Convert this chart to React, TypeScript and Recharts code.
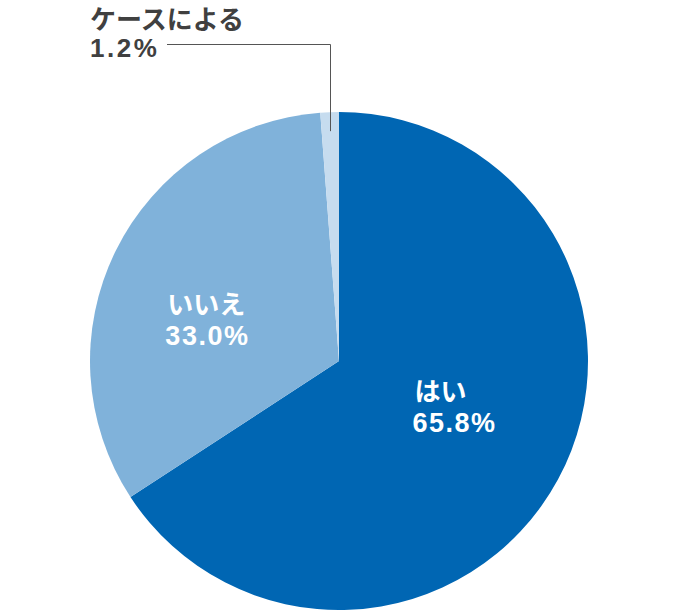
import { PieChart, Pie, Cell } from 'recharts';

const answers = ['はい', 'いいえ', 'ケースによる'];
const shares = [65.8, 33.0, 1.2];
const sliceColors = ['#0066b3', '#80b2da', '#c6dcef'];

const chartData = answers.map((name, i) => ({ name, value: shares[i] }));

const RADIAN = Math.PI / 180;
const fontFamily = '"Liberation Sans", "Noto Sans CJK JP", sans-serif';

// nudge inside labels (left aligned) so they sit like the original
const insideNudge: { [key: number]: [number, number] } = {
  0: [-36, -19],
  1: [-62, 8],
};

const renderLabel = (props: any) => {
  const { cx, cy, midAngle, outerRadius, index, name, value } = props;
  const pct = `${Number(value).toFixed(1)}%`;

  if (index === 2) {
    // small slice: leader line to the upper left
    const sx = cx + (outerRadius - 19) * Math.cos(-midAngle * RADIAN);
    const sy = cy + (outerRadius - 19) * Math.sin(-midAngle * RADIAN);
    const ly = cy - outerRadius - 68;
    const lx = cx - 172;
    return (
      <g>
        <polyline
          points={`${Math.round(sx) + 0.5},${sy} ${Math.round(sx) + 0.5},${ly + 0.5} ${lx},${ly + 0.5}`}
          fill="none"
          stroke="#555"
          strokeWidth={1}
        />
        <text x={cx - 249} y={cy - outerRadius - 83} fill="#404040" fontSize={26} fontWeight={700} fontFamily={fontFamily}>
          {name}
        </text>
        <text x={cx - 249} y={cy - outerRadius - 55} fill="#404040" fontSize={26} fontWeight={700} letterSpacing={2.5} fontFamily={fontFamily}>
          {pct}
        </text>
      </g>
    );
  }

  const r = outerRadius * 0.5;
  const [dx, dy] = insideNudge[index] || [0, 0];
  const x = cx + r * Math.cos(-midAngle * RADIAN) + dx;
  const y = cy + r * Math.sin(-midAngle * RADIAN) + dy;
  return (
    <g>
      <text x={x + 2} y={y} fill="#fff" fontSize={26} fontWeight={700} fontFamily={fontFamily} textAnchor="start">
        {name}
      </text>
      <text x={x} y={y + 31} fill="#fff" fontSize={27} fontWeight={700} letterSpacing={1.5} fontFamily={fontFamily} textAnchor="start">
        {pct}
      </text>
    </g>
  );
};

export default function App() {
  return (
    <div style={{ position: 'absolute', left: 0, top: 0, width: 680, height: 616, background: '#fff' }}>
      <PieChart width={680} height={616} margin={{ top: 0, right: 0, bottom: 0, left: 0 }}>
        <Pie
          data={chartData}
          dataKey="value"
          nameKey="name"
          cx={339}
          cy={361}
          outerRadius={249}
          startAngle={90}
          endAngle={-270}
          stroke="none"
          label={renderLabel}
          labelLine={false}
          isAnimationActive={false}
        >
          {chartData.map((entry, index) => (
            <Cell key={`cell-${entry.name}`} fill={sliceColors[index]} />
          ))}
        </Pie>
      </PieChart>
    </div>
  );
}
